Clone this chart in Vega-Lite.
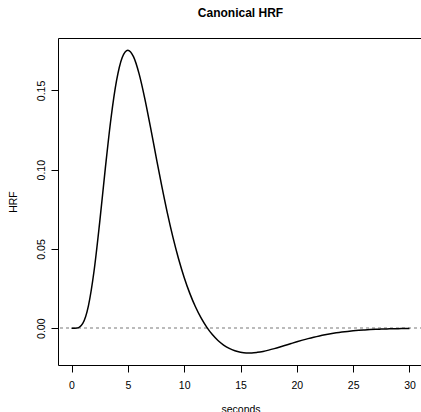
{
  "$schema": "https://vega.github.io/schema/vega-lite/v6.json",
  "autosize": {"type": "none"},
  "width": 365,
  "height": 327,
  "padding": {"left": 58, "top": 38, "right": 0, "bottom": 47},
  "background": "white",
  "config": {
    "font": "Liberation Sans",
    "view": {"stroke": "black", "strokeWidth": 1},
    "axis": {"grid": false, "domain": false, "tickColor": "black", "tickSize": 7, "labelColor": "black", "titleColor": "black", "labelFontSize": 10.5, "titleFontSize": 10.5, "titleFontWeight": "normal", "labelFont": "Liberation Sans", "titleFont": "Liberation Sans"}
  },
  "title": {"text": "Canonical HRF", "fontSize": 12, "fontWeight": "bold", "font": "Liberation Sans", "color": "black", "anchor": "middle", "offset": 18, "frame": "group"},
  "data": {"values": [
    {"t": 0, "hrf": 0},
    {"t": 0.5, "hrf": 0.000158},
    {"t": 1, "hrf": 0.003066},
    {"t": 1.5, "hrf": 0.01412},
    {"t": 2, "hrf": 0.036089},
    {"t": 2.5, "hrf": 0.066801},
    {"t": 3, "hrf": 0.100819},
    {"t": 3.5, "hrf": 0.132166},
    {"t": 4, "hrf": 0.156294},
    {"t": 4.5, "hrf": 0.170818},
    {"t": 5, "hrf": 0.175441},
    {"t": 5.5, "hrf": 0.171336},
    {"t": 6, "hrf": 0.160477},
    {"t": 6.5, "hrf": 0.145066},
    {"t": 7, "hrf": 0.127165},
    {"t": 7.5, "hrf": 0.108432},
    {"t": 8, "hrf": 0.090099},
    {"t": 8.5, "hrf": 0.072969},
    {"t": 9, "hrf": 0.057488},
    {"t": 9.5, "hrf": 0.043846},
    {"t": 10, "hrf": 0.032047},
    {"t": 10.5, "hrf": 0.02199},
    {"t": 11, "hrf": 0.013524},
    {"t": 11.5, "hrf": 0.006474},
    {"t": 12, "hrf": 0.000676},
    {"t": 12.5, "hrf": -0.004023},
    {"t": 13, "hrf": -0.007752},
    {"t": 13.5, "hrf": -0.010631},
    {"t": 14, "hrf": -0.01276},
    {"t": 14.5, "hrf": -0.014234},
    {"t": 15, "hrf": -0.015137},
    {"t": 15.5, "hrf": -0.015551},
    {"t": 16, "hrf": -0.015553},
    {"t": 16.5, "hrf": -0.015217},
    {"t": 17, "hrf": -0.014614},
    {"t": 17.5, "hrf": -0.013808},
    {"t": 18, "hrf": -0.012856},
    {"t": 18.5, "hrf": -0.011814},
    {"t": 19, "hrf": -0.010725},
    {"t": 19.5, "hrf": -0.009628},
    {"t": 20, "hrf": -0.008553},
    {"t": 20.5, "hrf": -0.007524},
    {"t": 21, "hrf": -0.006557},
    {"t": 21.5, "hrf": -0.005665},
    {"t": 22, "hrf": -0.004854},
    {"t": 22.5, "hrf": -0.004127},
    {"t": 23, "hrf": -0.003482},
    {"t": 23.5, "hrf": -0.002917},
    {"t": 24, "hrf": -0.002427},
    {"t": 24.5, "hrf": -0.002005},
    {"t": 25, "hrf": -0.001648},
    {"t": 25.5, "hrf": -0.001345},
    {"t": 26, "hrf": -0.001091},
    {"t": 26.5, "hrf": -0.000881},
    {"t": 27, "hrf": -0.000708},
    {"t": 27.5, "hrf": -0.000565},
    {"t": 28, "hrf": -0.000449},
    {"t": 28.5, "hrf": -0.000355},
    {"t": 29, "hrf": -0.00028},
    {"t": 29.5, "hrf": -0.000219},
    {"t": 30, "hrf": -0.000171}
  ]},
  "layer": [
    {
      "mark": {"type": "rule", "color": "#bbbbbb", "strokeDash": [3, 3], "strokeWidth": 1},
      "encoding": {"y": {"datum": 0, "type": "quantitative"}}
    },
    {
      "mark": {"type": "line", "color": "black", "strokeWidth": 1.5, "interpolate": "monotone"},
      "encoding": {
        "x": {"field": "t", "type": "quantitative", "title": "seconds",
              "scale": {"domain": [-1.2, 31.2], "nice": false, "zero": false},
              "axis": {"values": [0, 5, 10, 15, 20, 25, 30], "labelPadding": 8, "titlePadding": 14, "labelFlush": false, "labelOverlap": false}},
        "y": {"field": "hrf", "type": "quantitative", "title": "HRF",
              "scale": {"domain": [-0.0232, 0.1831], "nice": false, "zero": false},
              "axis": {"values": [0, 0.05, 0.1, 0.15], "format": ".2f", "labelAngle": -90, "labelAlign": "center", "labelBaseline": "bottom", "labelPadding": 5, "titlePadding": 18, "labelFlush": false, "labelOverlap": false}}
      }
    }
  ]
}
